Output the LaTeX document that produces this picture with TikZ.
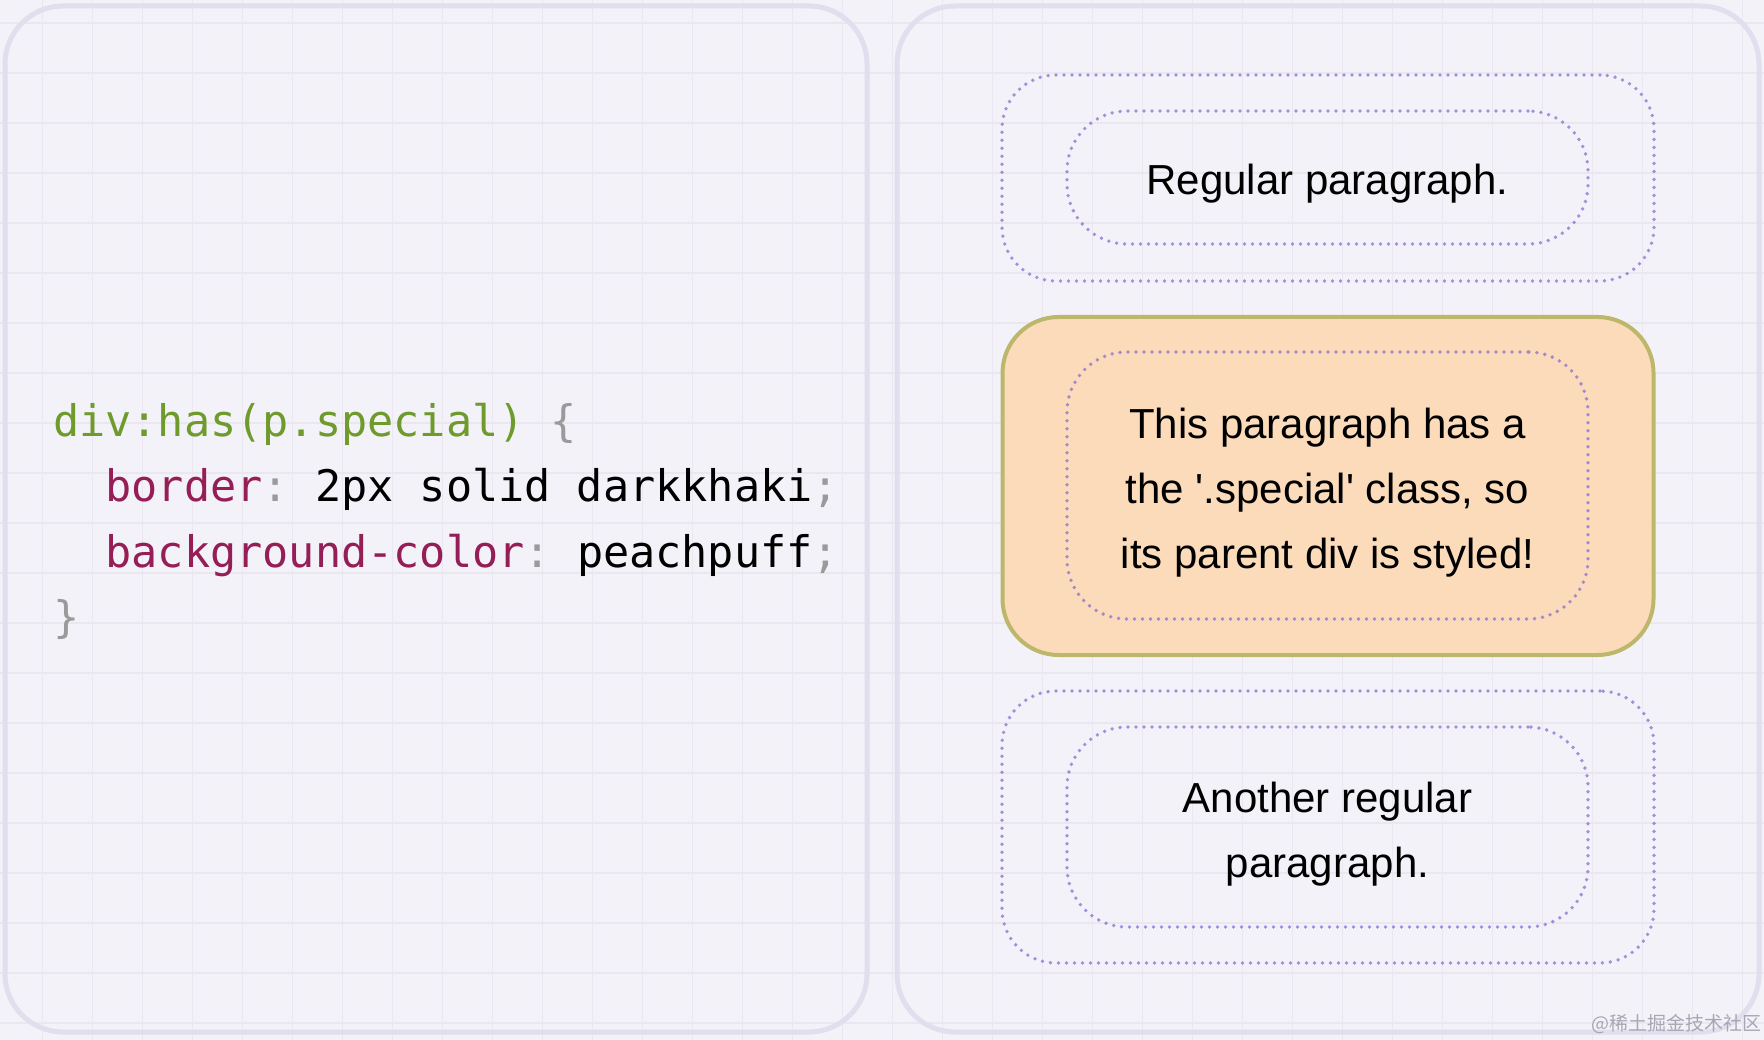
\documentclass[tikz,border=0pt]{standalone}
\usepackage{fontspec}
\setmainfont{Liberation Sans}
\newfontfamily\codefont{DejaVu Sans Mono}
\newfontfamily\cjkfont{Noto Sans CJK SC}
\definecolor{bgcol}{HTML}{F4F2F9}
\definecolor{gridcol}{HTML}{EAE7F1}
\definecolor{panelcol}{HTML}{E1DEEE}
\definecolor{dotcol}{HTML}{8A6ED0}
\definecolor{khaki}{HTML}{BDB76B}
\definecolor{peach}{HTML}{FBDBB9}
\definecolor{cgreen}{HTML}{6F9A2C}
\definecolor{cmag}{HTML}{951E57}
\definecolor{cgray}{HTML}{9A9A9A}
\definecolor{wmcol}{HTML}{A9A5B2}
\begin{document}
\begin{tikzpicture}[x=1pt,y=-1pt,
  gridline/.style={draw=gridcol, line width=1.3pt},
  panel/.style={draw=panelcol, line width=5pt, rounded corners=58pt},
  dotbox/.style={rectangle, draw=dotcol, draw opacity=0.75, line width=3.8pt,
    dash pattern=on 0pt off 8pt, line cap=round, inner sep=0pt},
  divbox/.style={dotbox, rounded corners=54pt, minimum width=652pt},
  pbox/.style={dotbox, rounded corners=60pt, minimum width=521pt},
  special/.style={rectangle, draw=khaki, fill=peach, line width=4pt,
    rounded corners=56pt, minimum width=651pt, inner sep=0pt},
  code/.style={anchor=base west, inner sep=0pt, font=\codefont\fontsize{43.5}{65}\selectfont},
  para/.style={anchor=base, inner sep=0pt, font=\fontsize{42}{65}\selectfont},
  wm/.style={anchor=base east, inner sep=0pt, text=wmcol, font=\cjkfont\fontsize{19}{22}\selectfont}
]
\useasboundingbox (0,0) rectangle (1764,1040);
\fill[bgcol] (0,0) rectangle (1764,1040);
% grid
\foreach \i in {0,...,34} \draw[gridline] (42.5+50*\i,0) -- (42.5+50*\i,1040);
\foreach \j in {0,...,20} \draw[gridline] (0,23+50*\j) -- (1764,23+50*\j);
% panels
\draw[panel] (5,6) rectangle (867,1032);
\draw[panel] (897,6) rectangle (1759,1032);
% code
\node[code] (c1) at (53,436) {\color{cgreen}div:has(p.special)\color{cgray}~\{};
\node[code] (c2) at (105.4,501.5) {\color{cmag}border\color{cgray}:\color{black}~2px~solid~darkkhaki\color{cgray};};
\node[code] (c3) at (105.4,567) {\color{cmag}background-color\color{cgray}:\color{black}~peachpuff\color{cgray};};
\node[code] (c4) at (53,632.5) {\color{cgray}\}};
% top div
\node[divbox, minimum height=206pt] (d1) at (1328,178) {};
\node[pbox, minimum height=133pt] (p1) at (1327.5,177.5) {};
\node[para] (t1) at (1327.5,195) {Regular paragraph.};
% special div
\node[special, minimum height=338pt] (d2) at (1328,486) {};
\node[pbox, minimum height=267pt] (p2) at (1327.5,485.5) {};
\node[para] (t2a) at (1327.5,438) {This paragraph has a};
\node[para] (t2b) at (1327.5,503) {the \textquotesingle.special\textquotesingle\ class, so};
\node[para] (t2c) at (1327.5,568) {its parent div is styled!};
% bottom div
\node[divbox, minimum height=272pt] (d3) at (1328,827) {};
\node[pbox, minimum height=200pt] (p3) at (1327.5,827) {};
\node[para] (t3a) at (1327.5,812) {Another regular};
\node[para] (t3b) at (1327.5,877) {paragraph.};
% watermark
\node[wm] (w) at (1762,1030) {@稀土掘金技术社区};
\end{tikzpicture}
\end{document}
